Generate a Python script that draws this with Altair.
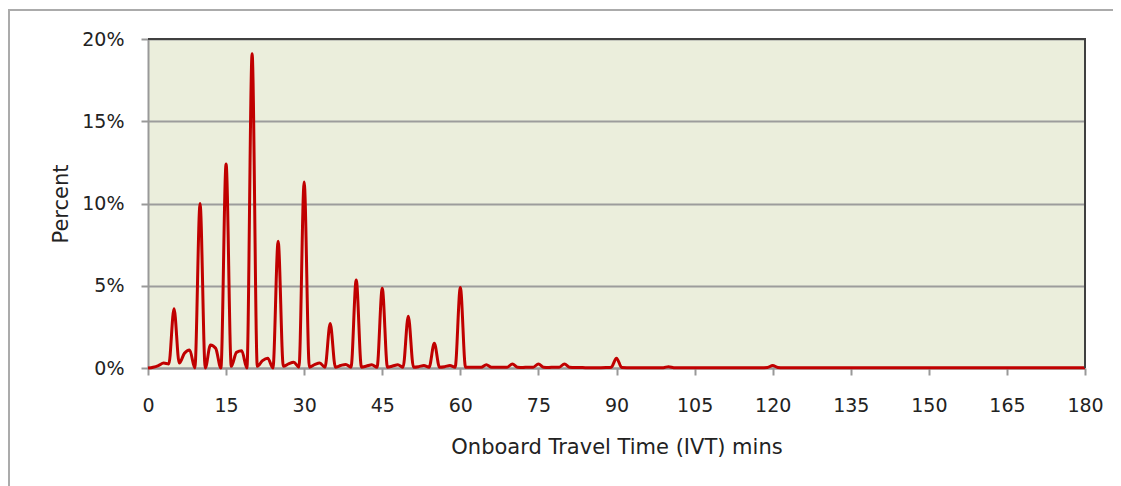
import altair as alt
import pandas as pd

# minutes 0..180 (one point per minute)
minutes = list(range(181))

percent = [
    # 0-9
    0.0, 0.05, 0.15, 0.3, 0.25, 3.6, 0.3, 0.9, 1.1, 0.0,
    # 10-19
    10.0, 0.0, 1.4, 1.2, 0.0, 12.4, 0.1, 0.95, 1.05, 0.0,
    # 20-29
    19.1, 0.1, 0.45, 0.6, 0.0, 7.7, 0.1, 0.25, 0.35, 0.05,
    # 30-39
    11.3, 0.05, 0.2, 0.3, 0.05, 2.7, 0.05, 0.15, 0.22, 0.05,
    # 40-49
    5.35, 0.05, 0.12, 0.2, 0.05, 4.85, 0.05, 0.12, 0.2, 0.05,
    # 50-59
    3.15, 0.05, 0.08, 0.15, 0.05, 1.5, 0.05, 0.08, 0.15, 0.05,
    # 60-69
    4.9, 0.05, 0.05, 0.05, 0.05, 0.2, 0.05, 0.05, 0.05, 0.05,
    # 70-79
    0.25, 0.05, 0.03, 0.05, 0.05, 0.25, 0.05, 0.03, 0.05, 0.05,
    # 80-89
    0.25, 0.05, 0.03, 0.03, 0.02, 0.02, 0.02, 0.02, 0.03, 0.05,
    # 90-99
    0.6, 0.03, 0.02, 0.02, 0.02, 0.02, 0.02, 0.02, 0.02, 0.02,
    # 100-109
    0.08, 0.02, 0.01, 0.01, 0.01, 0.01, 0.01, 0.01, 0.01, 0.01,
    # 110-119
    0.01, 0.01, 0.01, 0.01, 0.01, 0.01, 0.01, 0.01, 0.02, 0.03,
    # 120-129
    0.15, 0.03, 0.01, 0.01, 0.01, 0.01, 0.01, 0.01, 0.01, 0.01,
    # 130-139
    0.01, 0.01, 0.01, 0.01, 0.01, 0.01, 0.01, 0.01, 0.01, 0.01,
    # 140-149
    0.01, 0.01, 0.01, 0.01, 0.01, 0.01, 0.01, 0.01, 0.01, 0.01,
    # 150-159
    0.01, 0.01, 0.01, 0.01, 0.01, 0.01, 0.01, 0.01, 0.01, 0.01,
    # 160-169
    0.01, 0.01, 0.01, 0.01, 0.01, 0.01, 0.01, 0.01, 0.01, 0.01,
    # 170-180
    0.01, 0.01, 0.01, 0.01, 0.01, 0.01, 0.01, 0.01, 0.01, 0.01, 0.01,
]

x_ticks = [0, 15, 30, 45, 60, 75, 90, 105, 120, 135, 150, 165, 180]
y_ticks = [0, 5, 10, 15, 20]

df = pd.DataFrame({"minute": minutes, "pct": percent})

W, H = 937, 329
PAD = {"left": 140, "top": 31, "right": 28, "bottom": 118}
FONT = "DejaVu Sans"

line = alt.Chart(df).mark_line(
    color="#C00000", strokeWidth=3, interpolate="monotone"
).encode(
    x=alt.X(
        "minute:Q",
        scale=alt.Scale(domain=[0, 180], nice=False, zero=True),
        axis=alt.Axis(
            values=x_ticks,
            title="Onboard Travel Time (IVT) mins",
            grid=False,
            labelFlush=False,
            labelPadding=21,
            titlePadding=21,
        ),
    ),
    y=alt.Y(
        "pct:Q",
        scale=alt.Scale(domain=[0, 20], nice=False),
        axis=alt.Axis(
            values=y_ticks,
            title="Percent",
            grid=True,
            labelFlush=False,
            labelExpr="datum.value + '%'",
            labelPadding=17,
            titlePadding=10,
        ),
    ),
)

one = alt.Data(values=[{}])

top_border = alt.Chart(one).mark_rule(color="#404040", strokeWidth=2).encode(
    x=alt.value(0), x2=alt.value(W + 1), y=alt.value(0)
)
right_border = alt.Chart(one).mark_rule(color="#404040", strokeWidth=2).encode(
    x=alt.value(W), y=alt.value(0), y2=alt.value(H)
)
frame_top = alt.Chart(one).mark_rule(color="#ABABAB", strokeWidth=2).encode(
    x=alt.value(-PAD["left"]), x2=alt.value(W + PAD["right"]), y=alt.value(-29)
)
frame_left = alt.Chart(one).mark_rule(color="#ABABAB", strokeWidth=2).encode(
    x=alt.value(-PAD["left"] + 1), y=alt.value(-29), y2=alt.value(H + PAD["bottom"])
)

chart = alt.layer(
    frame_top, frame_left, line, top_border, right_border
).properties(
    width=W,
    height=H,
    padding=PAD,
    autosize=alt.AutoSizeParams(type="none"),
    background="white",
).configure_view(
    fill="#EBEEDC", stroke=None
).configure_axis(
    domainColor="#999999",
    domainWidth=2,
    tickColor="#999999",
    tickWidth=2,
    tickSize=7,
    gridColor="#9C9C9C",
    gridWidth=2,
    labelFont=FONT,
    labelFontSize=19,
    labelColor="#222222",
    titleFont=FONT,
    titleFontSize=21,
    titleFontWeight="normal",
    titleColor="#222222",
)

chart.save("out.html", embed_options={"renderer": "svg", "actions": False})
